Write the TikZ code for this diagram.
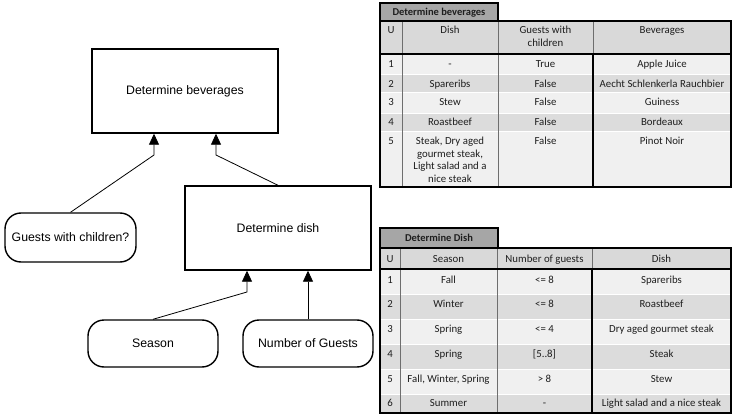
\documentclass[tikz,border=0pt]{standalone}
\usepackage{fontspec}
\usetikzlibrary{arrows.meta}
\newfontfamily\diagfont{Liberation Sans}
\newfontfamily\tabfont{Carlito}
\definecolor{tabgray}{HTML}{A6A6A6}
\definecolor{headgray}{HTML}{D9D9D9}
\definecolor{lightrow}{HTML}{F0F0F0}
\definecolor{darkrow}{HTML}{DCDCDC}
\definecolor{gridgray}{HTML}{6E6E6E}
\definecolor{tabtext}{HTML}{1E1E1E}
\begin{document}
\begin{tikzpicture}[x=1pt,y=-1pt,
  procbox/.style={draw,line width=1.4pt,minimum width=186pt,minimum height=84pt,font=\diagfont\fontsize{12.3}{14}\selectfont},
  inbox/.style={draw,line width=1.4pt,rounded corners=16pt,font=\diagfont\fontsize{12.3}{14}\selectfont},
  conn/.style={line width=0.8pt,-{Triangle[length=11pt,width=10pt]}},
  cell/.style={inner sep=0pt,anchor=base,text=tabtext,font=\tabfont\fontsize{10.8}{12.7}\selectfont},
  mcell/.style={inner sep=0pt,anchor=north,align=center,text=tabtext,font=\tabfont\fontsize{10.8}{12.7}\selectfont},
  tabtitle/.style={inner sep=0pt,anchor=base,text=tabtext,font=\tabfont\bfseries\fontsize{10.5}{12}\selectfont},
  thinrule/.style={draw=gridgray,line width=0.8pt},
  thickrule/.style={draw=black,line width=1.5pt},
  sep/.style={draw=white,line width=0.8pt}
]
\useasboundingbox (0,0) rectangle (732,415);

% ---------------- left diagram ----------------
\node[procbox] (bev) at (185,91) {Determine beverages};
\node[procbox] (dish) at (278,228) {Determine dish};
\node[inbox,minimum width=131pt,minimum height=49pt] (guests) at (70.5,237.5) {Guests with children?};
\node[inbox,minimum width=130pt,minimum height=47pt] (season) at (153,343.5) {Season};
\node[inbox,minimum width=130pt,minimum height=47pt] (numg) at (308,343.5) {Number of Guests};

\coordinate (b1) at (154,155);
\coordinate (b2) at (216,155);
\coordinate (d1) at (247,292);
\draw[conn] (guests.north) -- (b1) -- (b1 |- bev.south);
\draw[conn] (dish.north) -- (b2) -- (b2 |- bev.south);
\draw[conn] (season.north) -- (d1) -- (d1 |- dish.south);
\draw[conn] (numg.north) -- (numg.north |- dish.south);

% ---------------- table 1: Determine beverages ----------------
\fill[headgray] (380,21) rectangle (731,54);
\fill[lightrow] (380,54) rectangle (731,74);
\fill[darkrow]  (380,74) rectangle (731,92);
\fill[lightrow] (380,92) rectangle (731,113);
\fill[darkrow]  (380,113) rectangle (731,131);
\fill[lightrow] (380,131) rectangle (731,187);
\foreach \yy in {74,92,113,131} \draw[sep] (381,\yy) -- (730,\yy);
\draw[thinrule] (402,21) -- (402,187);
\draw[thinrule] (498,21) -- (498,187);
\draw[thinrule] (593,21) -- (593,54);
\draw[thickrule] (593,54) -- (593,187);
\draw[thickrule] (380,54) -- (731,54);
\draw[thickrule] (380,21) rectangle (731,187);
\draw[thickrule,fill=tabgray] (380,3) rectangle (498,21);
\node[tabtitle] (t1title) at (439,15.8) {Determine beverages};

\node[cell] (t1hU) at (391,33.5) {U};
\node[cell] (t1hD) at (450,33.5) {Dish};
\node[mcell] (t1hG) at (545.5,25.8) {Guests with\\children};
\node[cell] (t1hB) at (662,33.5) {Beverages};

\node[cell] (t1r1a) at (391,67.5) {1};
\node[cell] (t1r1b) at (450,67.5) {-};
\node[cell] (t1r1c) at (545.5,67.5) {True};
\node[cell] (t1r1d) at (662,67.5) {Apple Juice};

\node[cell] (t1r2a) at (391,87.5) {2};
\node[cell] (t1r2b) at (450,87.5) {Spareribs};
\node[cell] (t1r2c) at (545.5,87.5) {False};
\node[cell] (t1r2d) at (662,87.5) {Aecht Schlenkerla Rauchbier};

\node[cell] (t1r3a) at (391,105.5) {3};
\node[cell] (t1r3b) at (450,105.5) {Stew};
\node[cell] (t1r3c) at (545.5,105.5) {False};
\node[cell] (t1r3d) at (662,105.5) {Guiness};

\node[cell] (t1r4a) at (391,125.5) {4};
\node[cell] (t1r4b) at (450,125.5) {Roastbeef};
\node[cell] (t1r4c) at (545.5,125.5) {False};
\node[cell] (t1r4d) at (662,125.5) {Bordeaux};

\node[cell] (t1r5a) at (391,144.5) {5};
\node[mcell] (t1r5b) at (450,136.8) {Steak, Dry aged\\gourmet steak,\\Light salad and a\\nice steak};
\node[cell] (t1r5c) at (545.5,144.5) {False};
\node[cell] (t1r5d) at (662,144.5) {Pinot Noir};

% ---------------- table 2: Determine Dish ----------------
\fill[headgray] (380,248) rectangle (731,269);
\fill[lightrow] (380,269) rectangle (731,294);
\fill[darkrow]  (380,294) rectangle (731,319);
\fill[lightrow] (380,319) rectangle (731,344);
\fill[darkrow]  (380,344) rectangle (731,369);
\fill[lightrow] (380,369) rectangle (731,394);
\fill[darkrow]  (380,394) rectangle (731,413);
\foreach \yy in {294,319,344,369,394} \draw[sep] (381,\yy) -- (730,\yy);
\draw[thinrule] (400,248) -- (400,413);
\draw[thinrule] (497,248) -- (497,413);
\draw[thinrule] (592,248) -- (592,269);
\draw[thickrule] (592,269) -- (592,413);
\draw[thickrule] (380,269) -- (731,269);
\draw[thickrule] (380,248) rectangle (731,413);
\draw[thickrule,fill=tabgray] (380,228) rectangle (498,248);
\node[tabtitle] (t2title) at (439,241.8) {Determine Dish};

\node[cell] (t2hU) at (390,262) {U};
\node[cell] (t2hS) at (448.5,262) {Season};
\node[cell] (t2hN) at (544.5,262) {Number of guests};
\node[cell] (t2hD) at (661.5,262) {Dish};

\node[cell] (t2r1a) at (390,283.5) {1};
\node[cell] (t2r1b) at (448.5,283.5) {Fall};
\node[cell] (t2r1c) at (544.5,283.5) {<= 8};
\node[cell] (t2r1d) at (661.5,283.5) {Spareribs};

\node[cell] (t2r2a) at (390,307.5) {2};
\node[cell] (t2r2b) at (448.5,307.5) {Winter};
\node[cell] (t2r2c) at (544.5,307.5) {<= 8};
\node[cell] (t2r2d) at (661.5,307.5) {Roastbeef};

\node[cell] (t2r3a) at (390,332.5) {3};
\node[cell] (t2r3b) at (448.5,332.5) {Spring};
\node[cell] (t2r3c) at (544.5,332.5) {<= 4};
\node[cell] (t2r3d) at (661.5,332.5) {Dry aged gourmet steak};

\node[cell] (t2r4a) at (390,357.5) {4};
\node[cell] (t2r4b) at (448.5,357.5) {Spring};
\node[cell] (t2r4c) at (544.5,357.5) {[5..8]};
\node[cell] (t2r4d) at (661.5,357.5) {Steak};

\node[cell] (t2r5a) at (390,382.5) {5};
\node[cell] (t2r5b) at (448.5,382.5) {Fall, Winter, Spring};
\node[cell] (t2r5c) at (544.5,382.5) {> 8};
\node[cell] (t2r5d) at (661.5,382.5) {Stew};

\node[cell] (t2r6a) at (390,406.5) {6};
\node[cell] (t2r6b) at (448.5,406.5) {Summer};
\node[cell] (t2r6c) at (544.5,406.5) {-};
\node[cell] (t2r6d) at (661.5,406.5) {Light salad and a nice steak};
\end{tikzpicture}
\end{document}
